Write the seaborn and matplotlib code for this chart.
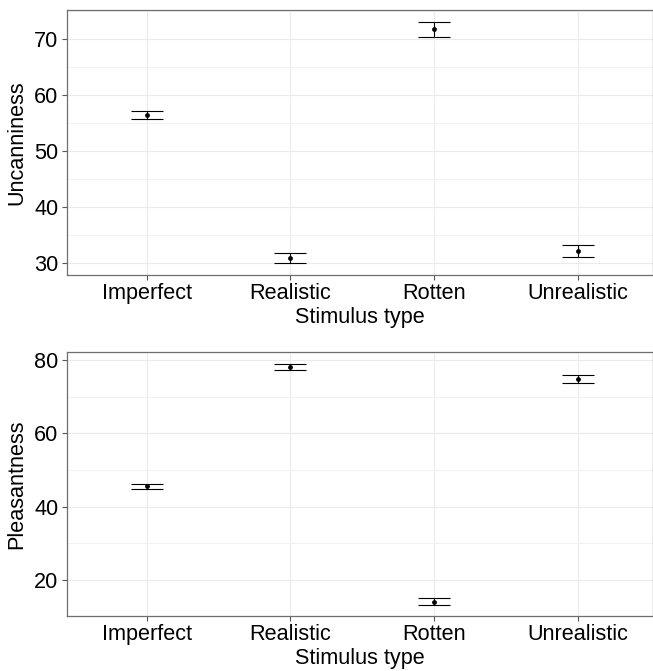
import numpy as np
import pandas as pd
import matplotlib
matplotlib.use("Agg")
import matplotlib.pyplot as plt
import seaborn as sns

# values
stimulus = ["Imperfect", "Realistic", "Rotten", "Unrealistic"]

uncanny_mean = [56.4, 30.8, 71.8, 32.2]
uncanny_lo = [55.7, 29.95, 70.5, 31.1]
uncanny_hi = [57.1, 31.7, 73.1, 33.2]

pleasant_mean = [45.6, 78.2, 14.1, 74.8]
pleasant_lo = [44.8, 77.3, 13.2, 73.7]
pleasant_hi = [46.3, 79.0, 15.0, 76.0]

sns.set_theme(style="white")
plt.rcParams['font.family'] = ['Liberation Sans', 'DejaVu Sans']

fig = plt.figure(figsize=(6.53, 6.71), dpi=100)
ax1 = fig.add_axes([0.102, 0.590, 0.898, 0.395])
ax2 = fig.add_axes([0.102, 0.082, 0.898, 0.394])

FS = 15.6


def draw_panel(ax, mean, lo, hi, ylabel, ylim, major, minor):
    df = pd.DataFrame({"Stimulus type": stimulus, "value": mean})
    x = np.arange(len(stimulus))
    mean = np.array(mean)
    yerr = [mean - np.array(lo), np.array(hi) - mean]
    ax.errorbar(x, mean, yerr=yerr, fmt="none", ecolor="black",
                elinewidth=0.8, capsize=11.2, capthick=0.8, zorder=3)
    sns.scatterplot(data=df, x="Stimulus type", y="value", ax=ax,
                    color="black", s=12, linewidth=0, zorder=4)
    ax.set_xlim(-0.556, 3.52)
    ax.set_ylim(*ylim)
    ax.set_yticks(major)
    ax.set_yticks(minor, minor=True)
    ax.set_xticks(x)
    ax.set_xticklabels(stimulus)
    ax.grid(True, which="major", color="#EBEBEB", linewidth=0.8)
    ax.grid(True, which="minor", axis="y", color="#F2F2F2", linewidth=0.8)
    ax.set_axisbelow(True)
    for sp in ax.spines.values():
        sp.set_color("#6E6E6E")
        sp.set_linewidth(0.9)
    ax.tick_params(axis="both", which="major", length=3.5, width=0.8,
                   color="#555555", labelsize=FS, labelcolor="black",
                   direction="out", bottom=True, left=True, pad=2.5)
    ax.tick_params(which="minor", length=0)
    ax.set_xlabel("Stimulus type", fontsize=FS, color="black", labelpad=2)
    ax.set_ylabel(ylabel, fontsize=FS, color="black", labelpad=5)


draw_panel(ax1, uncanny_mean, uncanny_lo, uncanny_hi, "Uncanniness",
           (27.8, 75.25), [30, 40, 50, 60, 70], [35, 45, 55, 65, 75])
draw_panel(ax2, pleasant_mean, pleasant_lo, pleasant_hi, "Pleasantness",
           (10.2, 82.3), [20, 40, 60, 80], [30, 50, 70])

fig.savefig("out.png", dpi=100)
